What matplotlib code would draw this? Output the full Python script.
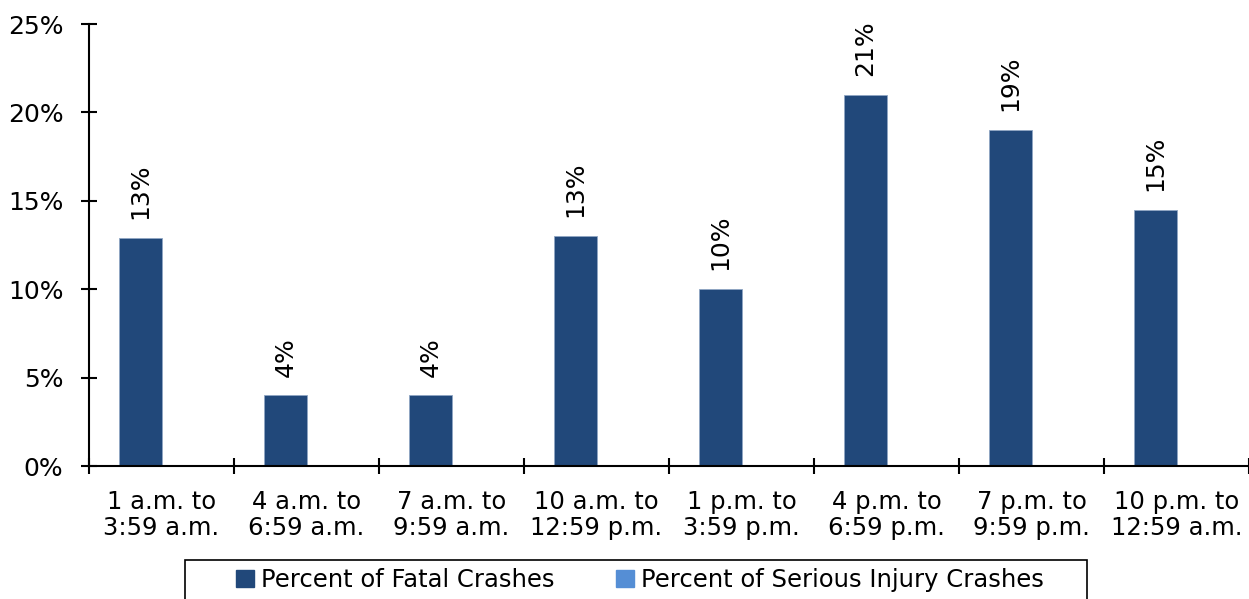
import matplotlib
matplotlib.use("Agg")
import matplotlib.pyplot as plt
import numpy as np
from matplotlib.patches import Patch, Rectangle

# categories and values
CATEGORIES = ["1 a.m. to\n3:59 a.m.", "4 a.m. to\n6:59 a.m.", "7 a.m. to\n9:59 a.m.",
              "10 a.m. to\n12:59 p.m.", "1 p.m. to\n3:59 p.m.", "4 p.m. to\n6:59 p.m.",
              "7 p.m. to\n9:59 p.m.", "10 p.m. to\n12:59 a.m."]
FATAL = [12.9, 4.0, 4.0, 13.0, 10.0, 21.0, 19.0, 14.5]
FATAL_LABELS = ["13%", "4%", "4%", "13%", "10%", "21%", "19%", "15%"]
SERIOUS = [0, 0, 0, 0, 0, 0, 0, 0]
Y_TICKS = [0, 5, 10, 15, 20, 25]

C_FATAL = "#21487a"
C_SERIOUS = "#558ed5"
FS = 17.5

W, H = 1249, 599
fig = plt.figure(figsize=(W/100, H/100), dpi=100)
ax = fig.add_axes([89/W, 133/H, 1160/W, 442/H])

x = np.arange(len(CATEGORIES))
w = 0.29
bars = ax.bar(x - w/2, FATAL, width=w, color=C_FATAL, edgecolor="#8fa6c4", linewidth=0.6)
ax.bar(x + w/2, SERIOUS, width=w, color=C_SERIOUS)

for b, lab in zip(bars, FATAL_LABELS):
    ax.annotate(lab, (b.get_x() + b.get_width()/2, b.get_height()),
                xytext=(0, 13.5), textcoords="offset points",
                rotation=90, ha="center", va="bottom", fontsize=18)

ax.set_xlim(-0.5, len(CATEGORIES) - 0.5)
ax.set_ylim(0, 25)
ax.set_yticks(Y_TICKS)
ax.set_yticklabels([f"{t}%" for t in Y_TICKS], fontsize=18)
ax.set_xticks(np.arange(len(CATEGORIES) + 1) - 0.5)
ax.set_xticklabels([])
ax.set_xticks(x, minor=True)
ax.set_xticklabels(CATEGORIES, minor=True, fontsize=FS, linespacing=1.15)
ax.tick_params(axis="x", which="minor", length=0, pad=17)
ax.tick_params(axis="both", which="major", direction="inout", length=11, width=1.5)
ax.tick_params(axis="y", pad=13)

for s in ["top", "right"]:
    ax.spines[s].set_visible(False)
for s in ["left", "bottom"]:
    ax.spines[s].set_linewidth(1.5)

# legend (frameless) + box drawn like the reference, running off the bottom edge
handles = [Patch(color=C_FATAL, label="Percent of Fatal Crashes"),
           Patch(color=C_SERIOUS, label="Percent of Serious Injury Crashes")]
leg = fig.legend(handles=handles, loc="center", bbox_to_anchor=(640/W, 1 - 580/H),
                 ncol=2, fontsize=FS, frameon=False,
                 handlelength=0.75, handleheight=0.75, handletextpad=0.3, columnspacing=2.5,
                 borderpad=0, borderaxespad=0)
fig.patches.append(Rectangle((185/W, -0.05), (1087 - 185)/W, 0.05 + (H - 560)/H,
                             transform=fig.transFigure, fill=False, edgecolor="black",
                             linewidth=1.2))

fig.savefig("out.png", dpi=100)
